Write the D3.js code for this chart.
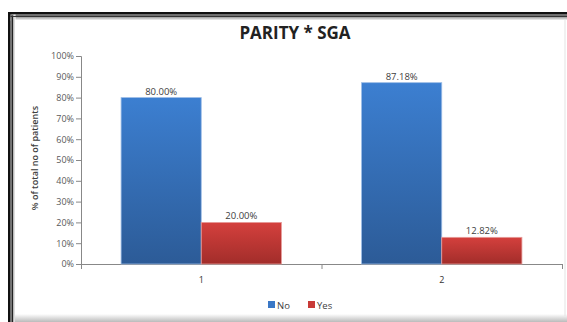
<!DOCTYPE html>
<html>
<head>
<meta charset="utf-8">
<script src="https://cdn.jsdelivr.net/npm/d3@7"></script>
<style>
  body { margin: 0; background: #fff; }
  svg { display: block; font-family: "Open Sans", "DejaVu Sans", sans-serif; }
</style>
</head>
<body>
<div id="chart-area"></div>
<script>
// chart data
var categories = ["1", "2"];
var seriesNames = ["No", "Yes"];
var noValues = [80.00, 87.18];
var yesValues = [20.00, 12.82];
var yTicks = [0, 10, 20, 30, 40, 50, 60, 70, 80, 90, 100];

var W = 567, H = 322;
var margin = { top: 56, bottom: 58, left: 81, right: 5 };
var width = W - margin.left - margin.right,
    height = H - margin.top - margin.bottom;

var svg = d3.select("#chart-area")
    .append("svg")
        .attr("width", W)
        .attr("height", H);

var defs = svg.append("defs");
function vGrad(id, top, bottom) {
    var gr = defs.append("linearGradient").attr("id", id)
        .attr("x1", 0).attr("y1", 0).attr("x2", 0).attr("y2", 1);
    gr.append("stop").attr("offset", "0%").attr("stop-color", top);
    gr.append("stop").attr("offset", "100%").attr("stop-color", bottom);
}
vGrad("gNo", "#3c7fd1", "#2c5b97");
vGrad("gYes", "#d4403d", "#a22d2a");
vGrad("shTop", "#555", "#fff");
vGrad("shBot", "#fff", "#bbb");
var hg = defs.append("linearGradient").attr("id", "shLeft")
    .attr("x1", 0).attr("y1", 0).attr("x2", 1).attr("y2", 0);
hg.append("stop").attr("offset", "0%").attr("stop-color", "#555");
hg.append("stop").attr("offset", "100%").attr("stop-color", "#fff");

// frame with dark border and soft shadow
svg.append("rect").attr("x", 8).attr("y", 12).attr("width", W).attr("height", 2.5).attr("fill", "#111");
svg.append("rect").attr("x", 8).attr("y", 12).attr("width", 2.5).attr("height", H).attr("fill", "#111");
svg.append("rect").attr("x", 10.5).attr("y", 14.5).attr("width", W).attr("height", 6).attr("fill", "url(#shTop)");
svg.append("rect").attr("x", 10.5).attr("y", 14.5).attr("width", 5).attr("height", H).attr("fill", "url(#shLeft)");
svg.append("rect").attr("x", 12).attr("y", 15.5).attr("width", 1).attr("height", H).attr("fill", "#222");
svg.append("rect").attr("x", 10.5).attr("y", 16).attr("width", W).attr("height", 1).attr("fill", "#333");
svg.append("rect").attr("x", 15).attr("y", 314).attr("width", W).attr("height", 8).attr("fill", "url(#shBot)");
svg.append("rect").attr("x", 564.5).attr("y", 20).attr("width", 1).attr("height", 296).attr("fill", "#e4e4e4");

// title
svg.append("text")
    .attr("x", 295).attr("y", 39)
    .attr("text-anchor", "middle")
    .attr("font-size", 17).attr("font-weight", "bold")
    .attr("fill", "#222")
    .text("PARITY * SGA");

var g = svg.append("g")
    .attr("transform", "translate(" + margin.left + "," + margin.top + ")");

var x0 = d3.scaleBand().domain(categories).range([0, width]);
var x1 = d3.scaleBand().domain(seriesNames)
    .range([x0.bandwidth() / 6, x0.bandwidth() * 5 / 6]);
var y = d3.scaleLinear().domain([0, 100]).range([height, 0]);

var rows = categories.map(function(c, i) {
    return { cat: c, vals: [
        { s: "No", v: noValues[i] },
        { s: "Yes", v: yesValues[i] }
    ] };
});

// y axis
var yAxisCall = d3.axisLeft(y).tickValues(yTicks).tickSize(5)
    .tickFormat(function(d) { return d + "%"; });
var yAx = g.append("g").attr("class", "y-axis").call(yAxisCall);
yAx.select(".domain").attr("stroke", "#888").attr("d", "M-5,0.5H0.5V" + (height + 0.5));
yAx.selectAll("line").attr("stroke", "#888").attr("x1", -5).attr("x2", 0);
yAx.selectAll("text").attr("fill", "#595959").attr("font-size", 9)
    .attr("font-family", "Open Sans, sans-serif").attr("x", -7);

// x axis
var xAx = g.append("g").attr("class", "x axis")
    .attr("transform", "translate(0," + height + ")");
xAx.append("line").attr("x1", -5).attr("x2", width).attr("y1", 0.5).attr("y2", 0.5).attr("stroke", "#888");
[0, x0.bandwidth(), width].forEach(function(t) {
    xAx.append("line").attr("x1", t + 0.5).attr("x2", t + 0.5)
        .attr("y1", 0).attr("y2", 5).attr("stroke", "#888");
});
xAx.selectAll(".cat").data(categories).enter().append("text")
    .attr("class", "cat")
    .attr("x", function(d) { return x0(d) + x0.bandwidth() / 2; })
    .attr("y", 19)
    .attr("text-anchor", "middle")
    .attr("font-size", 9).attr("fill", "#333")
    .text(function(d) { return d; });

// bars
var groups = g.selectAll(".grp").data(rows).enter().append("g")
    .attr("class", "grp")
    .attr("transform", function(d) { return "translate(" + x0(d.cat) + ",0)"; });

groups.selectAll("rect").data(function(d) { return d.vals; }).enter().append("rect")
    .attr("x", function(d) { return x1(d.s); })
    .attr("y", function(d) { return y(d.v); })
    .attr("width", x1.bandwidth())
    .attr("height", function(d) { return height - y(d.v); })
    .attr("fill", function(d) { return d.s === "No" ? "url(#gNo)" : "url(#gYes)"; })
    .attr("stroke", function(d) { return d.s === "No" ? "#9bbce6" : "#e69b99"; })
    .attr("stroke-width", 0.8);

groups.selectAll(".lbl").data(function(d) { return d.vals; }).enter().append("text")
    .attr("class", "lbl")
    .attr("x", function(d) { return x1(d.s) + x1.bandwidth() / 2; })
    .attr("y", function(d) { return y(d.v) - 3; })
    .attr("text-anchor", "middle")
    .attr("font-size", 9.5).attr("fill", "#404040")
    .text(function(d) { return d.v.toFixed(2) + "%"; });

// y axis title
svg.append("text")
    .attr("transform", "translate(38,158) rotate(-90)")
    .attr("text-anchor", "middle")
    .attr("font-size", 9).attr("font-weight", 600)
    .attr("fill", "#404040")
    .text("% of total no of patients");

// legend
var legend = svg.append("g").attr("transform", "translate(268,301)");
var colors = { No: "#3a78c6", Yes: "#c83a37" };
var lx = [0, 40];
seriesNames.forEach(function(s, i) {
    legend.append("rect").attr("x", lx[i]).attr("y", 0).attr("width", 7).attr("height", 7)
        .attr("fill", colors[s]);
    legend.append("text").attr("x", lx[i] + 9).attr("y", 7.5)
        .attr("font-size", 9.5).attr("fill", "#404040")
        .text(s);
});
</script>
</body>
</html>
